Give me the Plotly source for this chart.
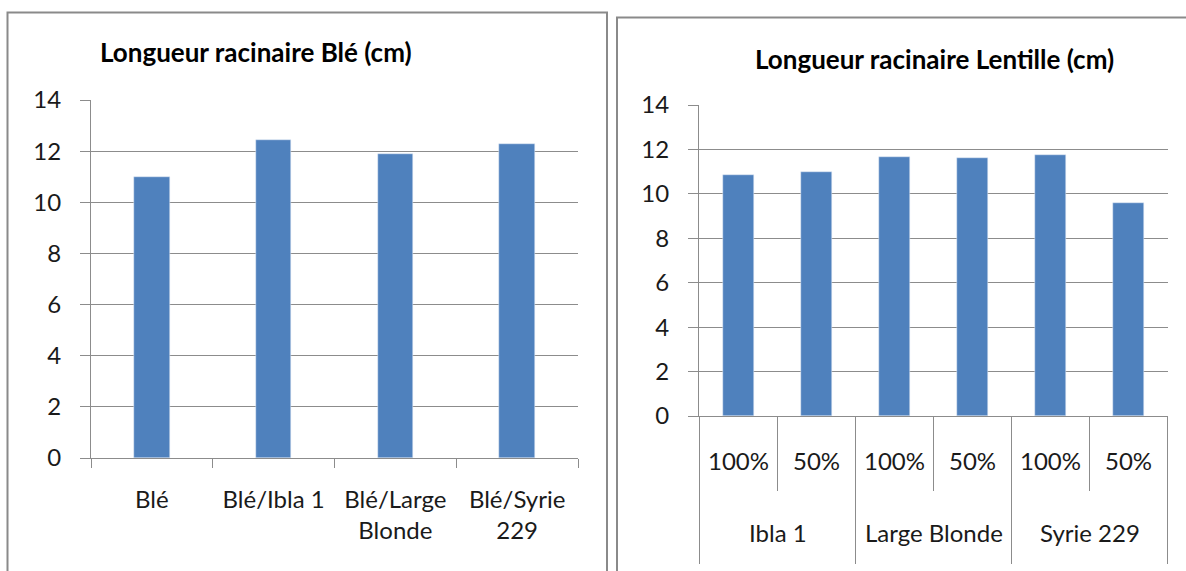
import plotly.graph_objects as go

# Root length of wheat (cm)
ble_categories = ["Blé", "Blé/Ibla 1", "Blé/Large<br>Blonde", "Blé/Syrie<br>229"]
ble_values = [11.0, 12.42, 11.87, 12.27]

# Root length of lentil (cm), grouped by variety and dose
lentil_groups = ["Ibla 1", "Large Blonde", "Syrie 229"]
lentil_doses = ["100%", "50%"]
lentil_values = [
    [10.85, 10.97],
    [11.68, 11.62],
    [11.74, 9.60],
]

y_ticks = [0, 2, 4, 6, 8, 10, 12, 14]

W, H = 1186, 571
FONT = "Lato"
BAR = "#4F81BD"
GRID = "#8C8C8C"
FRAME = "#8A8A8A"
TXT = "#1a1a1a"
TICK_SIZE = 24
TITLE_SIZE = 26


def px_x(p):
    return p / W


def px_y(p):
    return (H - p) / H


lentil_x = [f"{g} {d}" for g in lentil_groups for d in lentil_doses]
lentil_y = [v for row in lentil_values for v in row]
lentil_text = [d for g in lentil_groups for d in lentil_doses]

fig = go.Figure()
fig.add_trace(go.Bar(x=ble_categories, y=ble_values, marker_color=BAR,
                     width=0.29, xaxis="x", yaxis="y", hoverinfo="x+y"))
fig.add_trace(go.Bar(x=lentil_x, y=lentil_y, marker_color=BAR,
                     width=0.41, xaxis="x2", yaxis="y2", hoverinfo="x+y"))

yaxis_common = dict(
    range=[0, 14], tickvals=y_ticks, showgrid=True, gridcolor=GRID, gridwidth=1,
    showline=True, linecolor=GRID, linewidth=1, ticks="outside", ticklen=10,
    tickcolor=GRID, tickfont=dict(family=FONT, size=TICK_SIZE, color=TXT),
    ticklabelstandoff=14, zeroline=False, fixedrange=True, automargin=False,
)

fig.update_layout(
    width=W, height=H,
    margin=dict(l=0, r=0, t=0, b=0),
    paper_bgcolor="white", plot_bgcolor="white",
    showlegend=False, bargap=0,
    xaxis=dict(domain=[px_x(91), px_x(578)], anchor="y", type="category",
               showline=True, linecolor=GRID, linewidth=1,
               tickson="boundaries", ticks="outside", ticklen=9, tickcolor=GRID,
               tickfont=dict(family=FONT, size=TICK_SIZE, color=TXT),
               ticklabelstandoff=20, fixedrange=True, automargin=False),
    yaxis=dict(domain=[px_y(458), px_y(100)], anchor="x", **yaxis_common),
    xaxis2=dict(domain=[px_x(699), px_x(1168)], anchor="y2", type="category",
                showline=True, linecolor=GRID, linewidth=1,
                tickvals=lentil_x, ticktext=lentil_text, ticks="",
                tickfont=dict(family=FONT, size=TICK_SIZE, color=TXT),
                ticklabelstandoff=24, fixedrange=True, automargin=False),
    yaxis2=dict(domain=[px_y(416), px_y(105)], anchor="x2", **yaxis_common),
)

# Chart frames
fig.add_shape(type="rect", xref="paper", yref="paper",
              x0=px_x(7.5), x1=px_x(607), y0=px_y(580), y1=px_y(12.5),
              line=dict(color=FRAME, width=2), layer="below")
fig.add_shape(type="rect", xref="paper", yref="paper",
              x0=px_x(617), x1=px_x(1200), y0=px_y(580), y1=px_y(17.5),
              line=dict(color=FRAME, width=2), layer="below")

# Dose and group dividers below the lentil axis
n_doses = len(lentil_doses)
for k in range(len(lentil_x) + 1):
    xb = k - 0.5
    bottom = 564 if k % n_doses == 0 else 491
    fig.add_shape(type="line", xref="x2", yref="paper",
                  x0=xb, x1=xb, y0=px_y(416), y1=px_y(bottom),
                  line=dict(color=GRID, width=1))

for i, g in enumerate(lentil_groups):
    fig.add_annotation(x=i * n_doses + (n_doses - 1) / 2, y=px_y(532),
                       xref="x2", yref="paper", text=g, showarrow=False,
                       font=dict(family=FONT, size=TICK_SIZE, color=TXT),
                       xanchor="center", yanchor="middle")

# Titles
fig.add_annotation(x=px_x(256), y=px_y(52), xref="paper", yref="paper",
                   text="<b>Longueur racinaire Blé (cm)</b>", showarrow=False,
                   font=dict(family=FONT, size=TITLE_SIZE, color="#000000"),
                   xanchor="center", yanchor="middle")
fig.add_annotation(x=px_x(934), y=px_y(59), xref="paper", yref="paper",
                   text="<b>Longueur racinaire Lentille (cm)</b>", showarrow=False,
                   font=dict(family=FONT, size=TITLE_SIZE, color="#000000"),
                   xanchor="center", yanchor="middle")

fig.write_html("out.html")
